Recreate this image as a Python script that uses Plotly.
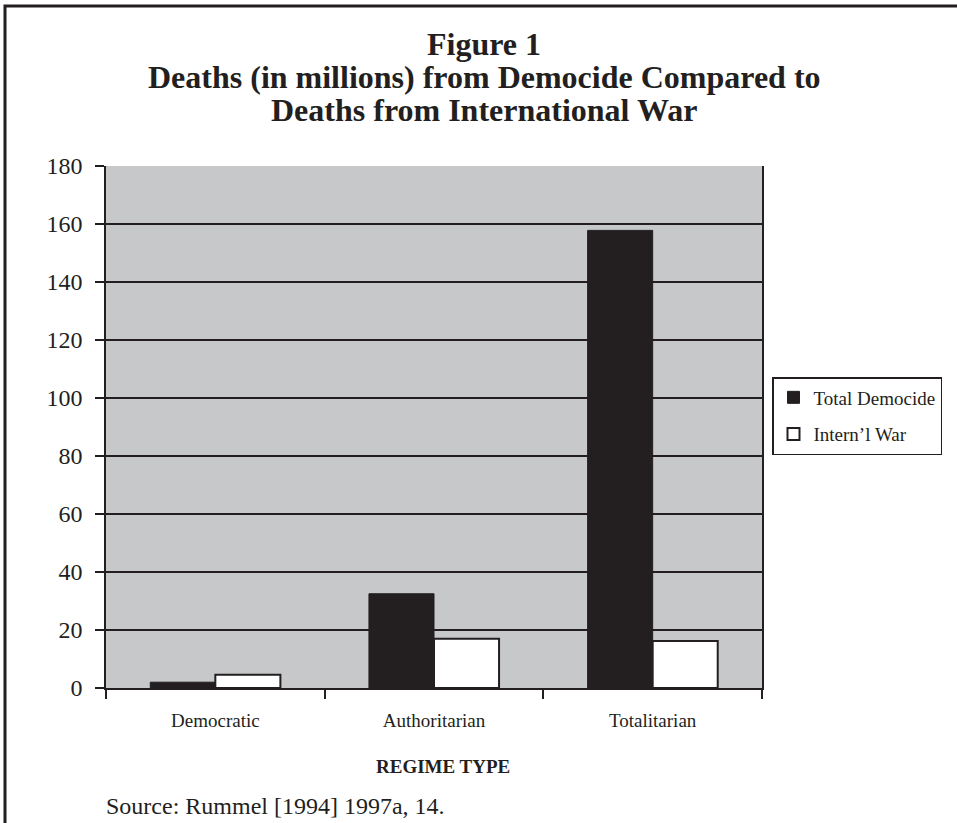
import plotly.graph_objects as go

categories = ["Democratic", "Authoritarian", "Totalitarian"]
democide = [2.0, 32.5, 157.8]
war = [4.6, 17.0, 16.2]
y_ticks = [0, 20, 40, 60, 80, 100, 120, 140, 160, 180]
title_lines = ["Figure 1", "Deaths (in millions) from Democide Compared to", "Deaths from International War"]

DARK = "#231f20"
FONT = "Liberation Serif"

W, H = 957, 823
L, R, T, B = 106, 762, 166, 688  # plot area pixel box


def px(x):
    return (x - L) / (R - L)


def py(y):
    return (B - y) / (B - T)


fig = go.Figure()
fig.add_trace(go.Bar(
    x=categories, y=democide, name="Total Democide", legendgroup="a",
    marker=dict(color=DARK, line=dict(color=DARK, width=1)),
))
fig.add_trace(go.Bar(
    x=categories, y=war, name="Intern\u2019l War", legendgroup="b",
    marker=dict(color="white", line=dict(color=DARK, width=2)),
))

annotations = []
for i, line in enumerate(title_lines):
    annotations.append(dict(
        text="<b>" + line + "</b>", xref="paper", yref="paper",
        x=px(484), y=py(44 + 33 * i), xanchor="center", yanchor="middle",
        showarrow=False, font=dict(size=32, family=FONT, color=DARK),
    ))
annotations += [
    dict(text="<b>REGIME TYPE</b>", xref="paper", yref="paper",
         x=px(443), y=py(766), xanchor="center", yanchor="middle",
         showarrow=False, font=dict(size=19, family=FONT, color=DARK)),
    dict(text="Source: Rummel [1994] 1997a, 14.", xref="paper", yref="paper",
         x=px(104), y=py(806), xanchor="left", yanchor="middle",
         showarrow=False, font=dict(size=24, family=FONT, color=DARK)),
]

fig.update_layout(
    width=W, height=H,
    margin=dict(l=L, r=W - R, t=T, b=H - B, autoexpand=False),
    paper_bgcolor="white",
    plot_bgcolor="#c7c8ca",
    barmode="group", bargap=0.405, bargroupgap=0,
    font=dict(family=FONT, color=DARK),
    showlegend=True,
    legend=dict(
        x=px(772), y=py(377), xanchor="left", yanchor="top",
        bordercolor=DARK, borderwidth=1.5, bgcolor="white",
        font=dict(size=19, family=FONT, color=DARK),
        tracegroupgap=9, traceorder="grouped",
    ),
    xaxis=dict(
        type="category", range=[-0.5, 2.5],
        showline=True, linecolor=DARK, linewidth=1.5,
        ticks="outside", tickson="boundaries", ticklen=9, tickcolor=DARK, tickwidth=1.5,
        tickfont=dict(size=19, family=FONT, color=DARK),
        ticklabelstandoff=14,
        showgrid=False,
    ),
    yaxis=dict(
        range=[0, 180], tickvals=y_ticks, ticktext=[str(v) for v in y_ticks],
        showline=True, linecolor=DARK, linewidth=1.5, mirror=True,
        ticks="outside", ticklen=9, tickcolor=DARK, tickwidth=1.5,
        tickfont=dict(size=24, family=FONT, color=DARK),
        ticklabelstandoff=8,
        showgrid=True, gridcolor=DARK, gridwidth=1.5,
        zeroline=False,
    ),
    shapes=[dict(
        type="rect", xref="paper", yref="paper",
        x0=px(5), x1=px(990), y0=py(860), y1=py(6),
        line=dict(color=DARK, width=3), fillcolor="rgba(0,0,0,0)", layer="above",
    )],
    annotations=annotations,
)

fig.write_html(
    "out.html",
    config={"displayModeBar": False},
    post_script="document.body.style.margin='0';document.body.style.padding='0';document.body.style.overflow='hidden';",
)
